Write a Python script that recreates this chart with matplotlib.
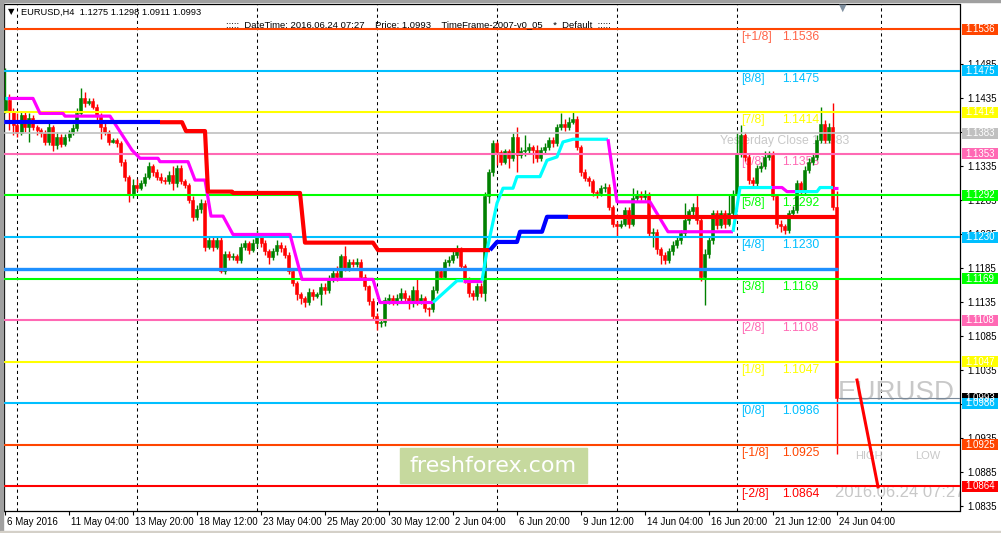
import matplotlib
matplotlib.use('Agg')
import matplotlib.pyplot as plt
import matplotlib.transforms as mtransforms
from matplotlib.patches import Rectangle
import numpy as np

plt.rcParams['font.family'] = ['Liberation Sans', 'DejaVu Sans']

# ---------------- data (EURUSD H4, bar 0 = 6 May 2016 12:00) ----------------
first_open = 1.1417
closes = [
    1.1432, 1.1414, 1.1395, 1.1383, 1.1410, 1.1392, 1.1405, 1.1392, 1.1387, 1.1383,
    1.1370, 1.1392, 1.1365, 1.1378, 1.1367, 1.1378, 1.1383, 1.1390, 1.1412, 1.1434,
    1.1427, 1.1430, 1.1422, 1.1408, 1.1392, 1.1385, 1.1370, 1.1373, 1.1368, 1.1340,
    1.1318, 1.1293, 1.1307, 1.1302, 1.1309, 1.1319, 1.1334, 1.1326, 1.1319, 1.1314,
    1.1312, 1.1322, 1.1309, 1.1331, 1.1312, 1.1307, 1.1285, 1.1260, 1.1272, 1.1280,
    1.1216, 1.1226, 1.1216, 1.1226, 1.1181, 1.1206, 1.1201, 1.1203, 1.1196, 1.1216,
    1.1221, 1.1211, 1.1221, 1.1231, 1.1221, 1.1209, 1.1201, 1.1209, 1.1219, 1.1214,
    1.1204, 1.1180, 1.1162, 1.1147, 1.1140, 1.1135, 1.1150, 1.1143, 1.1147, 1.1157,
    1.1152, 1.1169, 1.1177, 1.1172, 1.1202, 1.1185, 1.1194, 1.1190, 1.1194, 1.1172,
    1.1158, 1.1136, 1.1114, 1.1104, 1.1106, 1.1138, 1.1141, 1.1136, 1.1141, 1.1148,
    1.1141, 1.1133, 1.1153, 1.1136, 1.1141, 1.1126, 1.1124, 1.1153, 1.1180, 1.1172,
    1.1194, 1.1197, 1.1204, 1.1212, 1.1187, 1.1168, 1.1148, 1.1143, 1.1158, 1.1148,
    1.1290, 1.1326, 1.1368, 1.1355, 1.1341, 1.1356, 1.1346, 1.1378, 1.1351, 1.1356,
    1.1358, 1.1363, 1.1358, 1.1346, 1.1358, 1.1363, 1.1373, 1.1368, 1.1392, 1.1397,
    1.1392, 1.1400, 1.1404, 1.1363, 1.1326, 1.1317, 1.1312, 1.1297, 1.1295, 1.1302,
    1.1304, 1.1275, 1.1250, 1.1246, 1.1250, 1.1270, 1.1250, 1.1287, 1.1292, 1.1289,
    1.1292, 1.1236, 1.1238, 1.1212, 1.1204, 1.1196, 1.1209, 1.1219, 1.1226, 1.1236,
    1.1255, 1.1268, 1.1275, 1.1256, 1.1172, 1.1206, 1.1226, 1.1265, 1.1248, 1.1265,
    1.1250, 1.1265, 1.1294, 1.1353, 1.1380, 1.1348, 1.1314, 1.1309, 1.1331, 1.1334,
    1.1348, 1.1351, 1.1290, 1.1250, 1.1246, 1.1240, 1.1265, 1.1270, 1.1309, 1.1299,
    1.1329, 1.1341, 1.1348, 1.1373, 1.1397, 1.1373, 1.1392, 1.1275, 1.0993,
]
highs = [
    1.1478, 1.1440, 1.1420, 1.1412, 1.1416, 1.1414, 1.1412, 1.1410, 1.1395, 1.1390,
    1.1388, 1.1398, 1.1395, 1.1385, 1.1382, 1.1381, 1.1388, 1.1396, 1.1420, 1.1450,
    1.1444, 1.1434, 1.1435, 1.1426, 1.1412, 1.1398, 1.1388, 1.1376, 1.1376, 1.1372,
    1.1345, 1.1322, 1.1315, 1.1316, 1.1314, 1.1324, 1.1340, 1.1338, 1.1330, 1.1324,
    1.1318, 1.1328, 1.1334, 1.1336, 1.1336, 1.1316, 1.1310, 1.1290, 1.1278, 1.1286,
    1.1284, 1.1230, 1.1232, 1.1232, 1.1230, 1.1210, 1.1210, 1.1207, 1.1206, 1.1222,
    1.1226, 1.1225, 1.1228, 1.1240, 1.1236, 1.1226, 1.1212, 1.1214, 1.1226, 1.1223,
    1.1218, 1.1208, 1.1184, 1.1165, 1.1150, 1.1143, 1.1156, 1.1154, 1.1150, 1.1162,
    1.1162, 1.1174, 1.1185, 1.1188, 1.1206, 1.1217, 1.1198, 1.1198, 1.1200, 1.1198,
    1.1176, 1.1160, 1.1140, 1.1118, 1.1110, 1.1142, 1.1146, 1.1145, 1.1146, 1.1156,
    1.1152, 1.1145, 1.1158, 1.1170, 1.1146, 1.1144, 1.1128, 1.1158, 1.1184, 1.1185,
    1.1198, 1.1202, 1.1210, 1.1219, 1.1216, 1.1190, 1.1172, 1.1152, 1.1162, 1.1162,
    1.1297, 1.1330, 1.1373, 1.1372, 1.1358, 1.1360, 1.1360, 1.1383, 1.1392, 1.1362,
    1.1380, 1.1368, 1.1366, 1.1365, 1.1362, 1.1368, 1.1378, 1.1378, 1.1396, 1.1412,
    1.1404, 1.1406, 1.1414, 1.1408, 1.1366, 1.1330, 1.1320, 1.1316, 1.1300, 1.1306,
    1.1310, 1.1308, 1.1278, 1.1254, 1.1256, 1.1275, 1.1274, 1.1302, 1.1300, 1.1298,
    1.1300, 1.1296, 1.1244, 1.1242, 1.1216, 1.1208, 1.1214, 1.1224, 1.1232, 1.1240,
    1.1280, 1.1272, 1.1280, 1.1292, 1.1260, 1.1212, 1.1230, 1.1270, 1.1270, 1.1270,
    1.1270, 1.1292, 1.1300, 1.1383, 1.1395, 1.1384, 1.1352, 1.1318, 1.1336, 1.1340,
    1.1356, 1.1356, 1.1356, 1.1294, 1.1255, 1.1250, 1.1270, 1.1276, 1.1314, 1.1312,
    1.1334, 1.1346, 1.1354, 1.1380, 1.1422, 1.1402, 1.1398, 1.1427, 1.1298,
]
lows = [
    1.1412, 1.1387, 1.1380, 1.1378, 1.1380, 1.1385, 1.1370, 1.1388, 1.1380, 1.1378,
    1.1365, 1.1366, 1.1356, 1.1360, 1.1362, 1.1364, 1.1372, 1.1380, 1.1386, 1.1408,
    1.1422, 1.1424, 1.1418, 1.1402, 1.1375, 1.1380, 1.1365, 1.1368, 1.1362, 1.1335,
    1.1312, 1.1282, 1.1288, 1.1298, 1.1300, 1.1305, 1.1315, 1.1320, 1.1314, 1.1310,
    1.1308, 1.1308, 1.1300, 1.1304, 1.1308, 1.1302, 1.1280, 1.1254, 1.1256, 1.1266,
    1.1210, 1.1212, 1.1210, 1.1212, 1.1178, 1.1176, 1.1196, 1.1197, 1.1192, 1.1192,
    1.1211, 1.1206, 1.1208, 1.1216, 1.1215, 1.1204, 1.1190, 1.1196, 1.1204, 1.1208,
    1.1200, 1.1176, 1.1158, 1.1138, 1.1132, 1.1128, 1.1130, 1.1138, 1.1140, 1.1130,
    1.1146, 1.1148, 1.1164, 1.1166, 1.1168, 1.1180, 1.1180, 1.1186, 1.1186, 1.1168,
    1.1152, 1.1130, 1.1108, 1.1094, 1.1098, 1.1099, 1.1132, 1.1130, 1.1130, 1.1134,
    1.1136, 1.1124, 1.1128, 1.1130, 1.1132, 1.1120, 1.1114, 1.1120, 1.1148, 1.1168,
    1.1168, 1.1188, 1.1192, 1.1200, 1.1182, 1.1162, 1.1142, 1.1138, 1.1138, 1.1142,
    1.1136, 1.1280, 1.1320, 1.1336, 1.1336, 1.1338, 1.1331, 1.1342, 1.1326, 1.1346,
    1.1350, 1.1352, 1.1339, 1.1340, 1.1342, 1.1352, 1.1358, 1.1362, 1.1364, 1.1388,
    1.1386, 1.1388, 1.1396, 1.1358, 1.1320, 1.1312, 1.1305, 1.1290, 1.1288, 1.1290,
    1.1296, 1.1270, 1.1245, 1.1232, 1.1243, 1.1246, 1.1244, 1.1246, 1.1282, 1.1284,
    1.1284, 1.1230, 1.1215, 1.1206, 1.1190, 1.1190, 1.1192, 1.1204, 1.1214, 1.1220,
    1.1232, 1.1250, 1.1262, 1.1250, 1.1165, 1.1130, 1.1200, 1.1220, 1.1242, 1.1244,
    1.1244, 1.1246, 1.1260, 1.1290, 1.1348, 1.1342, 1.1308, 1.1302, 1.1304, 1.1326,
    1.1330, 1.1344, 1.1285, 1.1244, 1.1238, 1.1234, 1.1236, 1.1260, 1.1266, 1.1294,
    1.1294, 1.1324, 1.1336, 1.1344, 1.1368, 1.1368, 1.1368, 1.1270, 1.0911,
]

date_labels = ['6 May 2016', '11 May 04:00', '13 May 20:00', '18 May 12:00', '23 May 04:00',
               '25 May 20:00', '30 May 12:00', '2 Jun 04:00', '6 Jun 20:00', '9 Jun 12:00',
               '14 Jun 04:00', '16 Jun 20:00', '21 Jun 12:00', '24 Jun 04:00']
date_bars = [0, 16, 32, 48, 64, 80, 96, 112, 128, 144, 160, 176, 192, 208]
week_bars = [3, 33, 63, 93, 123, 153, 183, 219]

# Murrey Math levels
mm_names = ['[+1/8]', '[8/8]', '[7/8]', '[6/8]', '[5/8]', '[4/8]',
            '[3/8]', '[2/8]', '[1/8]', '[0/8]', '[-1/8]', '[-2/8]']
mm_levels = [1.1536, 1.1475, 1.1414, 1.1353, 1.1292, 1.1230,
             1.1169, 1.1108, 1.1047, 1.0986, 1.0925, 1.0864]
mm_colors = ['#FF4500', '#00BFFF', '#FFFF00', '#FF69B4', '#00FF00', '#00BFFF',
             '#00FF00', '#FF69B4', '#FFFF00', '#00BFFF', '#FF4500', '#FF0000']
mm_text_colors = ['#FF6347', '#00BFFF', '#FFFF00', '#FF69B4', '#00FF00', '#00BFFF',
                  '#00FF00', '#FF69B4', '#FFFF00', '#00BFFF', '#FF4500', '#FF0000']

yest_close = 1.1383
bid = 1.0993
support_level = 1.1183
price_ticks = [1.0835, 1.0885, 1.0935, 1.0985, 1.1035, 1.1085, 1.1135, 1.1185,
               1.1235, 1.1285, 1.1335, 1.1385, 1.1435, 1.1485]

# trailing step line (magenta = down, cyan = up): (colour, bars, prices)
trail_runs = [
    ('#00FFFF', [0, 0.75], [1.1434, 1.1434]),
    ('#FF00FF', [0.75, 7, 8.75, 14.5, 15, 26.25, 31.75, 33.75, 38.25, 38.75, 45.75, 47.5, 50,
                 51.5, 54.5, 57, 71.25, 74.25, 92, 93.75, 107],
     [1.1434, 1.1434, 1.1412, 1.1412, 1.1408, 1.1408, 1.1358, 1.1346, 1.1346, 1.1341, 1.1341,
      1.1314, 1.1314, 1.1261, 1.1261, 1.1234, 1.1234, 1.1168, 1.1168, 1.1134, 1.1134]),
    ('#00FFFF', [107, 113, 114.5], [1.1134, 1.1166, 1.1166]),
    ('#FF00FF', [114.5, 119.25], [1.1166, 1.1166]),
    ('#00FFFF', [119.25, 120.5, 123, 124.5, 127, 128, 133.75, 135.5, 138, 139.5, 142, 150.75],
     [1.1166, 1.1211, 1.1280, 1.1302, 1.1302, 1.1319, 1.1319, 1.1343, 1.1348, 1.1370, 1.1374, 1.1374]),
    ('#FF00FF', [150.75, 153, 161.25, 165.75, 182], [1.1374, 1.1282, 1.1282, 1.1238, 1.1238]),
    ('#00FFFF', [182, 183.75, 191.75], [1.1238, 1.1303, 1.1303]),
    ('#FF00FF', [191.75, 194.25, 195.5, 197.5], [1.1303, 1.1303, 1.1297, 1.1297]),
    ('#00FFFF', [197.5, 203, 203.75, 207], [1.1297, 1.1297, 1.1303, 1.1303]),
    ('#FF00FF', [207, 208.25], [1.1303, 1.1303]),
]

# thick stop line (blue = up, red = down)
stop_runs = [
    ('#0000FF', [-0.5, 38.75], [1.1399, 1.1399]),
    ('#FF0000', [38.75, 44.25, 45.25, 50, 50.75, 56.75, 57, 73.75, 75, 92, 93.25, 121.25],
     [1.1399, 1.1399, 1.1386, 1.1386, 1.1297, 1.1297, 1.1295, 1.1295, 1.1222, 1.1222, 1.1211, 1.1211]),
    ('#0000FF', [121.25, 123, 128, 128.75, 134.25, 135.5, 140.75],
     [1.1211, 1.1223, 1.1223, 1.1238, 1.1238, 1.1260, 1.1260]),
    ('#FF0000', [140.75, 208.25], [1.1260, 1.1260]),
]

# right-hand price labels
box_prices = [1.1536, 1.1475, 1.1414, 1.1383, 1.1353, 1.1292, 1.1230, 1.1169,
              1.1108, 1.1047, 1.0993, 1.0986, 1.0925, 1.0864]
box_colors = ['#FF4500', '#00BFFF', '#FFFF00', '#C0C0C0', '#FF69B4', '#00FF00', '#00BFFF', '#00FF00',
              '#FF69B4', '#FFFF00', '#000000', '#00BFFF', '#FF4500', '#FF0000']

# ---------------- figure ----------------
W, H = 1001, 533
fig = plt.figure(figsize=(W / 100, H / 100), dpi=100)
fig.patch.set_facecolor('white')
ax = fig.add_axes([3.5 / W, (H - 511) / H, 956 / W, 507 / H])
ax.set_xlim(-0.375, 238.625)
ax.set_ylim(1.08275, 1.15728)
px_price = (1.15728 - 1.08275) / 507  # price per pixel

# window frame bits
fig.patches.append(Rectangle((0, 0), 2.5 / W, 1, transform=fig.transFigure, color='#A0A0A0', zorder=0))
fig.patches.append(Rectangle((0, 1 - 1.5 / H), 1, 1.5 / H, transform=fig.transFigure, color='#A0A0A0', zorder=0))
fig.patches.append(Rectangle((0, 0), 1, 2.5 / H, transform=fig.transFigure, color='#D4D0C8', zorder=0))

# weekly grid
for b in week_bars:
    ax.axvline(b, color='black', lw=0.75, dashes=(3, 3), zorder=1)

# candles
c = np.array(closes)
o = np.r_[first_open, c[:-1]]
x = np.arange(len(c))
col = np.where(c >= o, '#008000', '#FF0000')
ax.vlines(x, lows, highs, colors=col, lw=1, zorder=3)
ax.bar(x, c - o, bottom=o, width=0.75, color=col, edgecolor=col, lw=0.4, zorder=3)

# murrey lines and labels
for name, lvl, lc, tc in zip(mm_names, mm_levels, mm_colors, mm_text_colors):
    ax.axhline(lvl, color=lc, lw=1.5, zorder=4)
    ax.annotate(name, (184, lvl), xytext=(0, -1.5), textcoords='offset points',
                ha='left', va='top', fontsize=8.8, color=tc, zorder=2)
    ax.annotate('%.4f' % lvl, (194.4, lvl), xytext=(0, -1.5), textcoords='offset points',
                ha='left', va='top', fontsize=8.8, color=tc, zorder=2)

ax.axhline(yest_close, color='#C0C0C0', lw=1.2, zorder=4)
ax.annotate('Yesterday Close %.4f' % yest_close, (178.8, yest_close), xytext=(0, -1.5),
            textcoords='offset points', ha='left', va='top', fontsize=8.8, color='#C8C8C8', zorder=2)

ax.plot([x[0] - 0.5, x[-1] + 0.25], [support_level, support_level], color='#1E90FF', lw=2.4,
        solid_capstyle='butt', zorder=5)
ax.plot([x[-1] + 0.5, 240], [bid, bid], color='#778899', lw=0.8, zorder=4)

for colr, bx, by in trail_runs:
    ax.plot(bx, by, color=colr, lw=2.3, solid_capstyle='butt', zorder=6)
for colr, bx, by in stop_runs:
    ax.plot(bx, by, color=colr, lw=3.0, solid_capstyle='butt', zorder=6)

# watermark texts on the right
ax.text(208.3, 1.1001, 'EURUSD', fontsize=20, color='#C8C8C8', va='center', ha='left', zorder=2, clip_on=True)
ax.text(212.6, 1.0908, 'HIGH', fontsize=8, color='#C8C8C8', va='center', ha='left', zorder=2, clip_on=True)
ax.text(227.6, 1.0908, 'LOW', fontsize=8, color='#C8C8C8', va='center', ha='left', zorder=2, clip_on=True)
ax.text(207.6, 1.0855, '2016.06.24 07:27', fontsize=12, color='#C8C8C8', va='center', ha='left',
        zorder=2, clip_on=True)
ax.plot([213, 218.25], [1.1020, 1.0863], color='#FF0000', lw=2.2, zorder=6)

# axes styling
for s in ax.spines.values():
    s.set_color('black')
    s.set_linewidth(0.9)
ax.yaxis.tick_right()
ax.set_yticks(price_ticks)
ax.set_yticklabels(['%.4f' % p for p in price_ticks])
ax.tick_params(axis='y', direction='out', length=2.5, width=0.8, labelsize=7, pad=3,
               right=True, left=False, labelright=True, labelleft=False, colors='black')
ax.set_xticks(date_bars)
ax.set_xticklabels(date_labels, ha='left')
ax.tick_params(axis='x', direction='out', length=3, width=0.8, labelsize=7, pad=1.5)
for lbl in ax.get_xticklabels():
    lbl.set_transform(lbl.get_transform() + mtransforms.ScaledTranslation(1.5 / 72, 0, fig.dpi_scale_trans))

trans = mtransforms.blended_transform_factory(ax.transAxes, ax.transData)
for p, bc in zip(box_prices, box_colors):
    ax.add_patch(Rectangle((1 + 2.5 / 956, p - 5.5 * px_price), 36 / 956, 11 * px_price,
                           transform=trans, facecolor=bc, edgecolor='none', clip_on=False, zorder=9))
    ax.text(1 + 20.5 / 956, p, '%.4f' % p, transform=trans, fontsize=7, color='white',
            va='center', ha='center', clip_on=False, zorder=10)

# header lines
fig.text(8 / W, 1 - 12 / H, '\u25bc', fontsize=6, family='DejaVu Sans', va='center', ha='left')
fig.text(21 / W, 1 - 12 / H, 'EURUSD,H4  1.1275 1.1298 1.0911 1.0993', fontsize=6.7, va='center', ha='left')
fig.text(418 / W, 1 - 25 / H,
         ':::::  DateTime: 2016.06.24 07:27    Price: 1.0993    TimeFrame-2007-v0_05    *  Default  :::::',
         fontsize=6.8, va='center', ha='center')
fig.text(843 / W, 1 - 8 / H, '\u25bc', fontsize=7, family='DejaVu Sans', color='#8090A0',
         va='center', ha='center')

# freshforex badge
fig.patches.append(Rectangle((400 / W, 1 - 483 / H), 187 / W, 35 / H, transform=fig.transFigure,
                             color='#C6D99E', zorder=20))
fig.text(493.5 / W, 1 - 466 / H, 'freshforex.com', fontsize=16, family='DejaVu Sans',
         color='white', va='center', ha='center', zorder=21)

fig.savefig('out.png', dpi=100)
